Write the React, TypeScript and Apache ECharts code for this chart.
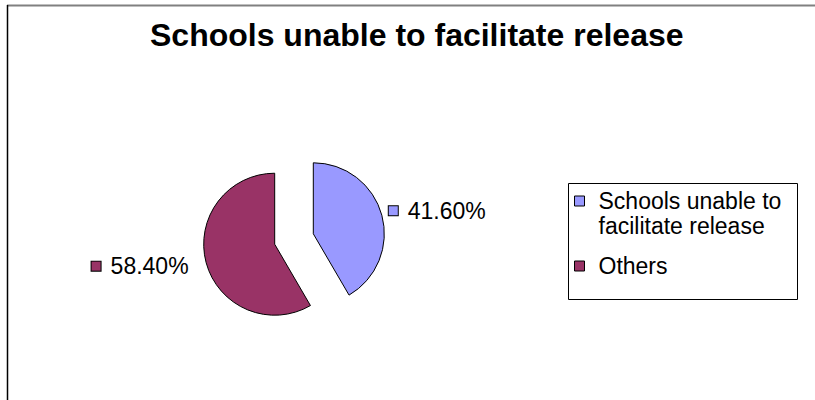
import React, { useEffect, useRef } from "react";
import * as echarts from "echarts";

const titleText = "Schools unable to facilitate release";
const categories = ["Schools unable to facilitate release", "Others"];
const legendLabels = ["\nSchools unable to\nfacilitate release", "Others"];
const values = [41.6, 58.4];
const colors = ["#9999FF", "#993366"];
const labelLineLengths = [2, 13];

const FONT = "'Liberation Sans', Arial, sans-serif";

export default function App() {
  const ref = useRef<HTMLDivElement>(null);
  useEffect(() => {
    if (!ref.current) return;
    const chart = echarts.init(ref.current, undefined, { renderer: "svg" });
    const data = categories.map((name, i) => ({
      name,
      value: values[i],
      selected: true,
      itemStyle: { color: colors[i], borderColor: "#000", borderWidth: 1 },
      labelLine: { show: false, length: labelLineLengths[i], length2: 0 },
      label: {
        padding: i === 0 ? [0, 0, 8, 0] : [0, 0, 0, 0],
        formatter: (p: any) => `{sq${p.dataIndex}|}{v|${Number(p.value).toFixed(2)}%}`,
      },
    }));
    const rich: any = {
      v: { fontSize: 23, fontFamily: FONT, color: "#000", padding: [0, 0, 0, 10] },
    };
    colors.forEach((c, i) => {
      rich["sq" + i] = { width: 9, height: 9, backgroundColor: c, borderColor: "#000", borderWidth: 1 };
    });
    chart.setOption({
      animation: false,
      backgroundColor: "#fff",
      title: {
        text: titleText,
        left: 145,
        top: 14,
        textStyle: { fontSize: 32, fontWeight: "bold", fontFamily: FONT, color: "#000" },
      },
      legend: {
        orient: "vertical",
        left: 574,
        top: 163.5,
        padding: 0,
        itemWidth: 10,
        itemHeight: 10,
        itemGap: 15,
        icon: "rect",
        selectedMode: false,
        data: [
          { name: categories[0], textStyle: { padding: [0, 0, 0, 9] } },
          { name: categories[1], textStyle: { padding: [0, 0, 0, 9] } },
        ],
        formatter: (name: string) => legendLabels[categories.indexOf(name)],
        textStyle: { fontSize: 23, fontFamily: FONT, color: "#000", lineHeight: 25 },
        itemStyle: { borderColor: "#000", borderWidth: 1 },
      },
      graphic: [
        { type: "line", shape: { x1: 7, y1: 5.5, x2: 815, y2: 5.5 }, style: { stroke: "#808080", lineWidth: 2 }, silent: true },
        { type: "line", shape: { x1: 7.5, y1: 5, x2: 7.5, y2: 400 }, style: { stroke: "#000", lineWidth: 1.5 }, silent: true },
        { type: "rect", shape: { x: 568.5, y: 183.5, width: 229, height: 116 }, style: { fill: "none", stroke: "#000", lineWidth: 1 }, silent: true },
      ],
      series: [
        {
          type: "pie",
          center: [294, 239],
          radius: 71,
          startAngle: 90,
          clockwise: true,
          selectedMode: "multiple",
          selectedOffset: 20,
          avoidLabelOverlap: false,
          emphasis: { disabled: true },
          select: { itemStyle: { borderColor: "#000", borderWidth: 1 } },
          label: { show: true, position: "outside", distanceToLabelLine: 5, rich, color: "#000" },
          labelLine: { show: false },
          data,
        },
      ],
    });
    return () => chart.dispose();
  }, []);
  return <div ref={ref} style={{ width: 815, height: 400, position: "absolute", left: 0, top: 0 }} />;
}
